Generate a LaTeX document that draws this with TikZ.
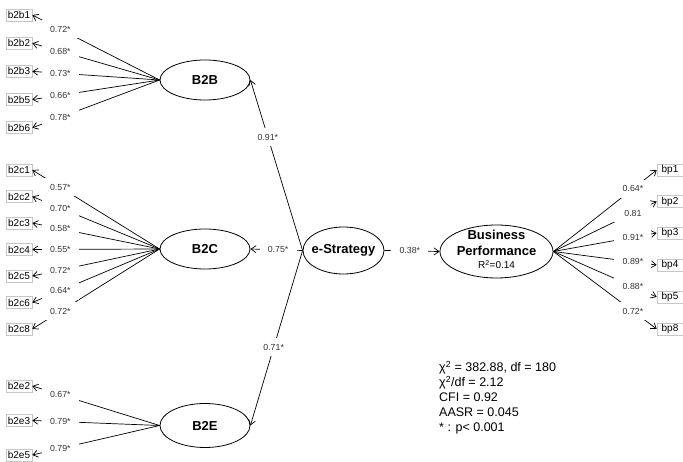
\documentclass[tikz,border=0pt]{standalone}
\usepackage{fontspec}
\setmainfont{Liberation Sans}
\usetikzlibrary{shapes.geometric,arrows.meta}
\begin{document}
\begin{tikzpicture}[x=1pt,y=-1pt,
  lat/.style={ellipse,draw,line width=0.8pt,inner sep=0pt,font=\fontsize{13}{16}\selectfont\bfseries},
  ind/.style={draw=gray!45,line width=0.6pt,fill=white,minimum width=26pt,minimum height=12pt,inner sep=0pt,font=\fontsize{10}{12}\selectfont},
  ld/.style={line width=0.7pt,-{Straight Barb[length=5pt,width=7pt]}},
  lab/.style={fill=white,inner sep=0pt,minimum width=37pt,minimum height=18pt,font=\fontsize{8.8}{10}\selectfont,text=black!80}
]
\useasboundingbox (0,0) rectangle (683,462);

% latent variables
\node[lat,minimum width=90pt,minimum height=40pt] (B2B) at (205,80) {B2B};
\node[lat,minimum width=90pt,minimum height=40pt] (B2C) at (205,249) {B2C};
\node[lat,minimum width=90pt,minimum height=44pt] (B2E) at (205,425.5) {B2E};
\node[lat,minimum width=81pt,minimum height=47pt] (ES) at (343.5,250.5) {\makebox[0pt]{e-Strategy}};
\node[lat,minimum width=113pt,minimum height=53pt] (BP) at (496.5,251.5)
  {\raisebox{-5pt}{\smash{\makebox[0pt]{\begin{tabular}{@{}c@{}}Business\\Performance\\[-3pt]{\fontsize{10}{12}\selectfont\mdseries R\textsuperscript{2}=0.14}\end{tabular}}}}};

% indicators
\foreach \nm/\yy in {b2b1/15,b2b2/43.2,b2b3/71.4,b2b5/99.6,b2b6/127.8,
  b2c1/170,b2c2/196.5,b2c3/223,b2c4/249.5,b2c5/276,b2c6/302.5,b2c8/329,
  b2e2/386,b2e3/420.5,b2e5/455}
  \node[ind] (\nm) at (19,\yy) {\nm};
\foreach \nm/\yy in {bp1/170,bp2/201.5,bp3/233,bp4/265,bp5/297,bp8/329}
  \node[ind] (\nm) at (670,\yy) {\nm};

% loadings (lines first)
\foreach \lv/\nm in {B2B/b2b1,B2B/b2b2,B2B/b2b3,B2B/b2b5,B2B/b2b6,
  B2C/b2c1,B2C/b2c2,B2C/b2c3,B2C/b2c4,B2C/b2c5,B2C/b2c6,B2C/b2c8,
  B2E/b2e2,B2E/b2e3,B2E/b2e5}
  \draw[ld] (\lv.west) -- coordinate[pos=0.78] (c-\nm) (\nm.east);
\foreach \nm in {bp1,bp2,bp3,bp4,bp5,bp8}
  \draw[ld] (BP.east) -- coordinate[pos=0.77] (c-\nm) (\nm.west);

% structural paths
\draw[ld] (ES.west) -- coordinate[pos=0.665] (c-s1) (B2B.east);
\draw[ld] (ES.west) -- coordinate[pos=0.47] (c-s2) (B2C.east);
\draw[ld] (ES.west) -- coordinate[pos=0.554] (c-s3) (B2E.east);
\draw[ld] (ES.east) -- coordinate[pos=0.46] (c-s4) (BP.west);

% labels
\foreach \nm/\val in {b2b1/0.72*,b2b2/0.68*,b2b3/0.73*,b2b5/0.66*,b2b6/0.78*,
  b2c1/0.57*,b2c2/0.70*,b2c3/0.58*,b2c4/0.55*,b2c5/0.72*,b2c6/0.64*,b2c8/0.72*,
  b2e2/0.67*,b2e3/0.79*,b2e5/0.79*,
  bp1/0.64*,bp2/0.81,bp3/0.91*,bp4/0.89*,bp5/0.88*,bp8/0.72*,
  s1/0.91*,s2/0.75*,s3/0.71*,s4/0.38*}
  \node[lab] (l-\nm) at (c-\nm) {\val};

% fit statistics
\node[anchor=north west,inner sep=0pt,align=left,font=\fontsize{12.5}{15}\selectfont] (fit) at (439,361)
  {χ\textsuperscript{2} = 382.88, df = 180\\
   χ\textsuperscript{2}/df = 2.12\\
   CFI = 0.92\\
   AASR = 0.045\\
   * : p< 0.001};
\end{tikzpicture}
\end{document}
